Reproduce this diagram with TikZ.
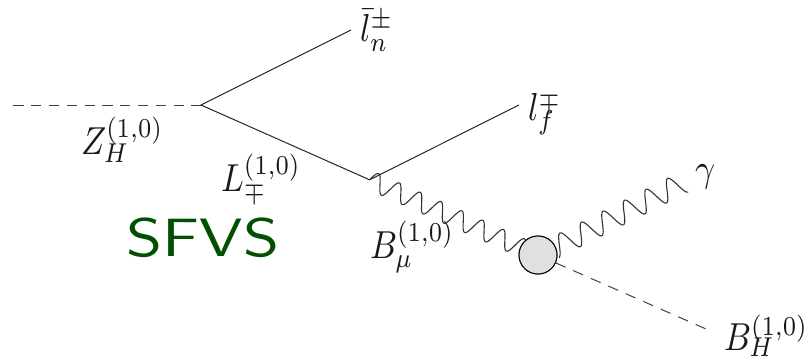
\documentclass[tikz,border=0pt]{standalone}
\usetikzlibrary{calc}
\definecolor{sfgreen}{RGB}{0,80,0}
\newcommand{\tri}[5]{\scalebox{3.35}[3.9]{$#1_{\raisebox{#4pt}[0pt][0pt]{$\scriptstyle #2$}}^{\raisebox{#5pt}[0pt][0pt]{$\scriptstyle #3$}}$}}
\newcommand{\wavefrom}[5]{% start, angle, period, amplitude, range
  \draw[wavy,shift={(#1)},rotate=#2] plot[domain=#5,samples=260] (\x,{-#4*sin((360/#3)*\x)});}
\tikzset{
 x=1pt,y=-1pt,
 fermion/.style={draw=black!85,line width=1pt},
 scalar/.style={draw=black!75,line width=1pt,dash pattern=on 10.7pt off 8.4pt},
 scalarh/.style={draw=black!75,line width=1pt,dash pattern=on 10.2pt off 7.6pt},
 wavy/.style={draw=black!80,line width=1.1pt,line join=round},
 lab/.style={inner sep=0pt,outer sep=0pt,text=black!90,anchor=base west},
 blob/.style={circle,draw=black,line width=1pt,fill=black!12,minimum size=38pt,inner sep=0pt},
}
\begin{document}
\begin{tikzpicture}
\useasboundingbox (0,0) rectangle (809,360);
\coordinate (in) at (13.3,105);
\coordinate (v1) at (201,105);
\coordinate (ln) at (351,30);
\coordinate (v2) at (369.6,179.8);
\coordinate (lf) at (519,105);
\coordinate (w2) at (559.4,245.3);
\coordinate (be) at (706.7,329.3);
\node[blob] (g) at (538,255) {};
\draw[scalarh] (in) -- (v1);
\draw[fermion] (ln) -- (v1) -- (v2) -- (lf);
\wavefrom{v2}{-24.1}{22.8}{9.3}{0:171}
\wavefrom{w2}{26.9}{24.15}{10.7}{-6.04:138.9}
\draw[scalar] (g.-24) -- (be);
\node[blob] at (g) {};
\node[lab] (t1) at (360,41.7) {\scalebox{3.35}[3.9]{$\bar l_n^{\pm}$}};
\node[lab] (t2) at (528,120) {\tri{l}{f}{\mp}{0}{-1}};
\node[lab] (t3) at (695,181.7) {\scalebox{3.5}[3.9]{$\gamma$}};
\node[lab] (t4) at (81,154) {\tri{Z}{H}{(1,0)}{0.4}{0.6}};
\node[lab] (t5) at (221,191.7) {\tri{L}{\mp}{(1,0)}{0.47}{0.8}};
\node[lab] (t6) at (370,258.3) {\tri{B}{\mu}{(1,0)}{0}{0.8}};
\node[lab] (t7) at (724,350) {\tri{B}{H}{(1,0)}{0.7}{0.2}};
\node[inner sep=0pt,text=sfgreen] (t8) at (203,238) {\scalebox{6.5}[5.4]{\sffamily SFVS}};
\end{tikzpicture}
\end{document}
